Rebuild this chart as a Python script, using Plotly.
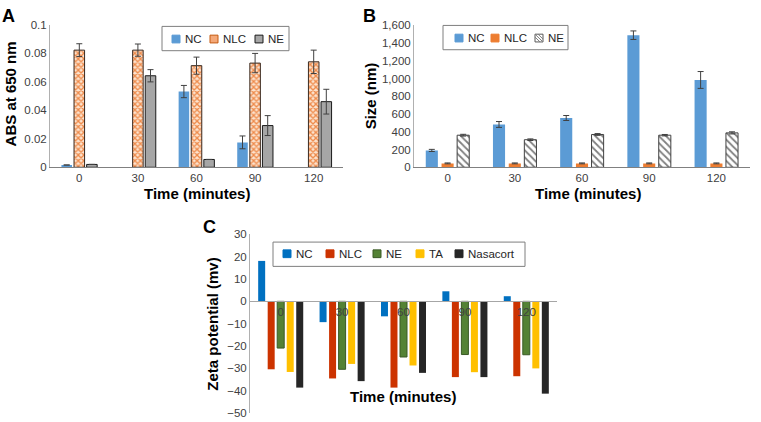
import plotly.graph_objects as go

W, H = 761, 422

# ---------------- data ----------------
times = ["0", "30", "60", "90", "120"]

# Panel A: absorbance at 650 nm
abs_nc = [0.0016, None, 0.0532, 0.0175, None]
abs_nc_err = [0, 0, 0.0043, 0.0045, 0]
abs_nlc = [0.0823, 0.0823, 0.0714, 0.0732, 0.0741]
abs_nlc_err = [0.0045, 0.0043, 0.0060, 0.0068, 0.0082]
abs_ne = [0.0020, 0.0643, 0.0055, 0.0293, 0.0461]
abs_ne_err = [0, 0.0043, 0, 0.0070, 0.0087]

# Panel B: particle size (nm)
size_nc = [190, 483, 556, 1490, 985]
size_nc_err = [12, 33, 28, 48, 95]
size_nlc = [44, 44, 44, 44, 44]
size_nlc_err = [5, 5, 5, 5, 5]
size_ne = [362, 311, 370, 362, 388]
size_ne_err = [10, 9, 10, 8, 12]

# Panel C: zeta potential (mv)
zeta_nc = [18.1, -9.3, -6.7, 4.5, 2.3]
zeta_nlc = [-30.4, -34.5, -38.6, -33.9, -33.5]
zeta_ne = [-20.9, -30.4, -24.9, -23.8, -23.9]
zeta_ta = [-31.6, -28.0, -28.7, -31.7, -30.0]
zeta_nasacort = [-38.6, -35.7, -32.0, -33.9, -41.3]

# ---------------- helpers ----------------
FONT = "Liberation Sans, Arial, sans-serif"
TICK_FONT = dict(family=FONT, size=11.5, color="#404040")


def px(x):
    return x / W


def py(y):
    return 1 - y / H


ERR = dict(type="data", thickness=1, width=3, color="#404040", visible=True)

fig = go.Figure()

# ---------------- Panel A ----------------
wA = 0.18
fig.add_trace(go.Bar(x=times, y=abs_nc, name="NC", xaxis="x", yaxis="y",
                     width=wA, offset=-0.215 - wA / 2,
                     marker=dict(color="#5B9BD5", line=dict(width=0)),
                     error_y=dict(array=abs_nc_err, **ERR)))
fig.add_trace(go.Bar(x=times, y=abs_nlc, name="NLC", xaxis="x", yaxis="y",
                     width=wA, offset=0 - wA / 2,
                     marker=dict(color="#F4B183",
                                 line=dict(color="#3a2a20", width=1),
                                 pattern=dict(shape="x", fgcolor="#EE8A4A",
                                              bgcolor="#FCE3CF", size=4,
                                              solidity=0.55, fillmode="replace")),
                     error_y=dict(array=abs_nlc_err, **ERR)))
fig.add_trace(go.Bar(x=times, y=abs_ne, name="NE", xaxis="x", yaxis="y",
                     width=wA, offset=0.215 - wA / 2,
                     marker=dict(color="#A6A6A6", line=dict(color="#1a1a1a", width=1)),
                     error_y=dict(array=abs_ne_err, **ERR)))

# ---------------- Panel B ----------------
wB = 0.18
fig.add_trace(go.Bar(x=times, y=size_nc, name="NC", xaxis="x2", yaxis="y2",
                     width=wB, offset=-0.235 - wB / 2,
                     marker=dict(color="#5B9BD5", line=dict(width=0)),
                     error_y=dict(array=size_nc_err, **ERR)))
fig.add_trace(go.Bar(x=times, y=size_nlc, name="NLC", xaxis="x2", yaxis="y2",
                     width=wB, offset=0 - wB / 2,
                     marker=dict(color="#ED7D31", line=dict(width=0)),
                     error_y=dict(array=size_nlc_err, **ERR)))
fig.add_trace(go.Bar(x=times, y=size_ne, name="NE", xaxis="x2", yaxis="y2",
                     width=wB, offset=0.232 - wB / 2,
                     marker=dict(color="white", line=dict(color="#404040", width=1),
                                 pattern=dict(shape="\\", fgcolor="#7f7f7f",
                                              bgcolor="white", size=5,
                                              solidity=0.35, fillmode="replace")),
                     error_y=dict(array=size_ne_err, **ERR)))

# ---------------- Panel C ----------------
wC = 0.114
c_series = [
    ("NC", zeta_nc, "#0070C0", None),
    ("NLC", zeta_nlc, "#CC3300", None),
    ("NE", zeta_ne, "#548235", "#3A5A25"),
    ("TA", zeta_ta, "#FFC000", None),
    ("Nasacort", zeta_nasacort, "#262626", None),
]
c_centers = [-0.31, -0.155, 0.0, 0.155, 0.31]
for (name, vals, col, lc), cc in zip(c_series, c_centers):
    fig.add_trace(go.Bar(x=times, y=vals, name=name, xaxis="x3", yaxis="y3",
                         width=wC, offset=cc - wC / 2,
                         marker=dict(color=col,
                                     line=dict(color=lc if lc else col,
                                               width=1 if lc else 0))))

# ---------------- axes ----------------
domA_x = [px(50), px(343)]
domA_y = [py(166), py(19.5)]
domB_x = [px(414), px(750)]
domB_y = [py(166), py(20)]
domC_x = [px(250), px(557)]
domC_y = [py(419), py(235)]
rangeC = [-50, 30]
zero_pos = domC_y[0] + (0 - rangeC[0]) / (rangeC[1] - rangeC[0]) * (domC_y[1] - domC_y[0])

common_x = dict(type="category", showgrid=False, ticks="", tickfont=TICK_FONT,
                showline=True, linewidth=1, zeroline=False, fixedrange=True)
common_y = dict(showgrid=False, ticks="", tickfont=TICK_FONT, showline=True,
                linewidth=1, linecolor="#b0b0b0", zeroline=False)

fig.update_layout(
    xaxis=dict(domain=domA_x, anchor="y", linecolor="#808080", **common_x),
    yaxis=dict(domain=domA_y, anchor="x", range=[0, 0.1], dtick=0.02, **common_y),
    xaxis2=dict(domain=domB_x, anchor="y2", linecolor="#808080", **common_x),
    yaxis2=dict(domain=domB_y, anchor="x2", range=[0, 1600], dtick=200,
                tickformat=",d", **common_y),
    xaxis3=dict(domain=domC_x, anchor="free", position=zero_pos,
                linecolor="#a6a6a6", **common_x),
    yaxis3=dict(domain=domC_y, anchor="x3", range=rangeC, dtick=10, **common_y),
)

# ---------------- annotations & legends ----------------
ann = []
shapes = []


def text(x, y, s, size, bold=False, angle=0, xanchor="center", yanchor="middle", color="#000000"):
    ann.append(dict(x=px(x), y=py(y), xref="paper", yref="paper", text=s,
                    showarrow=False, textangle=angle, xanchor=xanchor, yanchor=yanchor,
                    font=dict(family=FONT, size=size, color=color,
                              weight=700 if bold else 400)))


# panel letters
text(8.5, 10.5, "A", 18, bold=True)
text(369.5, 10.5, "B", 18, bold=True)
text(209.5, 227, "C", 18, bold=True)

# axis titles
text(10, 91, "ABS at 650 nm", 15, bold=True, angle=-90)
text(197, 193, "Time (minutes)", 15, bold=True)
text(370, 93, "Size (nm)", 15, bold=True, angle=-90)
text(588, 193, "Time (minutes)", 15, bold=True)
text(213, 328, "Zeta potential (mv)", 15, bold=True, angle=-90)
text(403, 402, "Time (minutes)", 15, bold=True)


def legend(box, items, yc):
    x0, y0, x1, y1 = box
    shapes.append(dict(type="rect", xref="paper", yref="paper",
                       x0=px(x0), x1=px(x1), y0=py(y1), y1=py(y0),
                       line=dict(color="#7f7f7f", width=1), fillcolor="white",
                       layer="above"))
    for sx, name, fill, line, hatch in items:
        s = 8
        shapes.append(dict(type="rect", xref="paper", yref="paper",
                           x0=px(sx), x1=px(sx + s), y0=py(yc + s / 2), y1=py(yc - s / 2),
                           line=dict(color=line, width=1), fillcolor=fill, layer="above"))
        if hatch:
            path = ""
            for k in range(-1, 2):
                ax, ay = sx + max(0, 3 * k), yc - s / 2 + max(0, -3 * k)
                bx, by = sx + s - max(0, -3 * k), yc + s / 2 - max(0, 3 * k)
                path += f"M{px(ax)},{py(ay)} L{px(bx)},{py(by)} "
            shapes.append(dict(type="path", xref="paper", yref="paper", path=path,
                               line=dict(color="#7f7f7f", width=1), layer="above"))
        text(sx + s + 3, yc, name, 11.5, xanchor="left", color="#262626")


legend((162, 21, 289, 46),
       [(172, "NC", "#5B9BD5", "#5B9BD5", False),
        (210, "NLC", "#F4A878", "#C55A11", False),
        (255, "NE", "#A6A6A6", "#1a1a1a", False)], 34)
legend((443, 20, 568, 45),
       [(455, "NC", "#5B9BD5", "#5B9BD5", False),
        (491, "NLC", "#ED7D31", "#ED7D31", False),
        (535, "NE", "white", "#595959", True)], 33)
legend((273, 243, 525, 268),
       [(283, "NC", "#0070C0", "#0070C0", False),
        (326, "NLC", "#CC3300", "#CC3300", False),
        (373, "NE", "#548235", "#3A5A25", False),
        (416, "TA", "#FFC000", "#FFC000", False),
        (455, "Nasacort", "#262626", "#262626", False)], 255)

fig.update_layout(
    width=W, height=H, margin=dict(l=0, r=0, t=0, b=0),
    paper_bgcolor="white", plot_bgcolor="white",
    showlegend=False, barmode="overlay",
    annotations=ann, shapes=shapes,
    font=dict(family=FONT),
)

fig.write_html("out.html",
               config={"displayModeBar": False},
               post_script="document.body.style.margin='0';document.body.style.padding='0';")
